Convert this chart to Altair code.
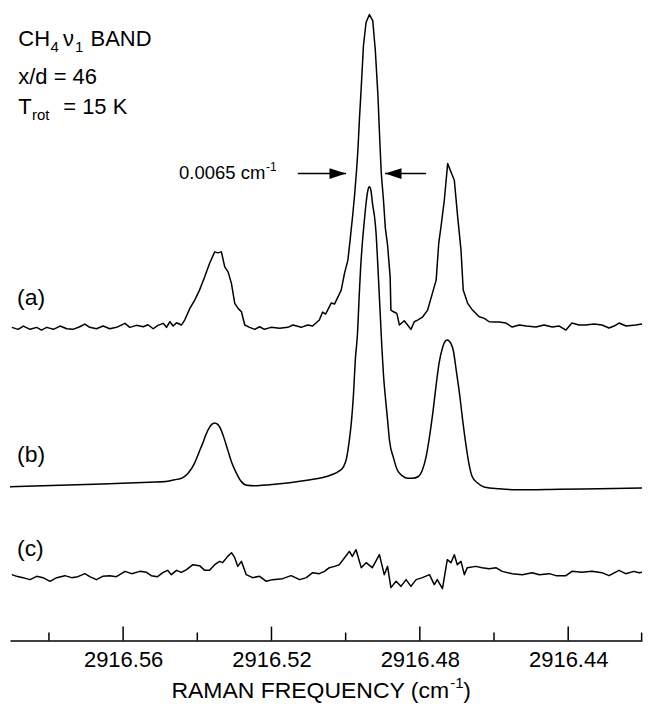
import altair as alt
import pandas as pd

# ---------------- data ----------------
# (a) experimental spectrum: frequency (cm-1) and intensity (arb. units)
A_FREQ = [2916.5900, 2916.5883, 2916.5869, 2916.5851, 2916.5833, 2916.5820, 2916.5806, 2916.5788, 2916.5770, 2916.5752,
          2916.5735, 2916.5717, 2916.5703, 2916.5690, 2916.5672, 2916.5654, 2916.5636, 2916.5618, 2916.5595, 2916.5582,
          2916.5564, 2916.5546, 2916.5533, 2916.5519, 2916.5506, 2916.5492, 2916.5483, 2916.5474, 2916.5465, 2916.5456,
          2916.5443, 2916.5434, 2916.5420, 2916.5407, 2916.5394, 2916.5380, 2916.5367, 2916.5353, 2916.5344, 2916.5335,
          2916.5326, 2916.5317, 2916.5308, 2916.5299, 2916.5290, 2916.5281, 2916.5272, 2916.5259, 2916.5245, 2916.5232,
          2916.5219, 2916.5201, 2916.5178, 2916.5156, 2916.5142, 2916.5120, 2916.5102, 2916.5089, 2916.5071, 2916.5062,
          2916.5054, 2916.5039, 2916.5030, 2916.5021, 2916.5012, 2916.5003, 2916.4994, 2916.4988, 2916.4981, 2916.4976,
          2916.4971, 2916.4967, 2916.4963, 2916.4957, 2916.4952, 2916.4945, 2916.4936, 2916.4927, 2916.4920, 2916.4913,
          2916.4908, 2916.4904, 2916.4898, 2916.4893, 2916.4887, 2916.4880, 2916.4878, 2916.4871, 2916.4862, 2916.4855,
          2916.4842, 2916.4833, 2916.4824, 2916.4815, 2916.4806, 2916.4792, 2916.4779, 2916.4766, 2916.4756, 2916.4749,
          2916.4743, 2916.4734, 2916.4725, 2916.4716, 2916.4707, 2916.4698, 2916.4689, 2916.4683, 2916.4671, 2916.4658,
          2916.4640, 2916.4626, 2916.4613, 2916.4599, 2916.4586, 2916.4568, 2916.4551, 2916.4532, 2916.4513, 2916.4487,
          2916.4465, 2916.4443, 2916.4424, 2916.4406, 2916.4390, 2916.4371, 2916.4353, 2916.4330, 2916.4309, 2916.4290,
          2916.4276, 2916.4263, 2916.4244, 2916.4218, 2916.4201, 2916.4182]
A_INT = [-0.3, -2.3, 1, -2.3, -0.3, -3, -0.3, -2.3, 1, -1.7,
         -2.3, 0.3, 3, -0.3, -1.7, 1, -1.7, -0.3, 3.7, -0.3,
         1.7, 0.3, 2.3, -1.7, 1.7, 3.7, -0.3, 5.3, 1, 4.3,
         2, 7, 18.7, 27, 37, 50.3, 63.7, 75.3, 74.3, 75.3,
         60.3, 55.3, 43.7, 23.7, 18.7, 15.3, 2, -0.3, -2.3, 0.3,
         -2.3, -0.3, -1.3, -0.3, 2, -0.3, 2, 1, 7, 15,
         13, 24, 23, 30, 37, 54, 67, 87, 112, 132,
         155, 177, 207, 247, 282, 305, 313, 307, 277, 232,
         187, 154, 127, 99, 82, 50, 17, 15.3, 13.7, 2,
         6.3, 2, -2.3, 5.3, 7, 10.3, 17, 34, 47, 84,
         100.3, 127, 163.7, 155.3, 147, 110.3, 77, 37, 23.7, 17,
         10.3, 8.7, 5.3, 5, 5, 4, 0, 2, 1, 0,
         2, 0, 1, -3, 4, 2, 2, 3, 2, -1,
         1, 4, 1, 2, 3, 4]

# (b) calculated spectrum
B_FREQ = [2916.5905, 2916.5770, 2916.5636, 2916.5528, 2916.5485, 2916.5461, 2916.5440, 2916.5426, 2916.5407, 2916.5396,
          2916.5385, 2916.5377, 2916.5368, 2916.5361, 2916.5353, 2916.5345, 2916.5337, 2916.5329, 2916.5318, 2916.5307,
          2916.5295, 2916.5283, 2916.5267, 2916.5245, 2916.5205, 2916.5151, 2916.5095, 2916.5065, 2916.5038, 2916.5017,
          2916.5006, 2916.4998, 2916.4990, 2916.4984, 2916.4979, 2916.4974, 2916.4968, 2916.4964, 2916.4960, 2916.4955,
          2916.4949, 2916.4945, 2916.4940, 2916.4936, 2916.4932, 2916.4927, 2916.4922, 2916.4918, 2916.4914, 2916.4910,
          2916.4906, 2916.4902, 2916.4898, 2916.4893, 2916.4887, 2916.4882, 2916.4871, 2916.4861, 2916.4847, 2916.4832,
          2916.4820, 2916.4804, 2916.4793, 2916.4783, 2916.4774, 2916.4765, 2916.4756, 2916.4748, 2916.4739, 2916.4731,
          2916.4726, 2916.4721, 2916.4715, 2916.4710, 2916.4702, 2916.4692, 2916.4684, 2916.4675, 2916.4667, 2916.4659,
          2916.4645, 2916.4625, 2916.4586, 2916.4536, 2916.4424, 2916.4317, 2916.4181]
B_INT = [1, 2.5, 4, 5.5, 6.3, 8, 10, 14, 25, 35,
         45, 53, 60, 63.5, 65, 63.5, 59, 51, 38, 25,
         15, 7, 2.5, 2, 3, 5, 8, 10, 13, 17,
         21, 29, 48, 68, 93, 128, 155, 188, 218, 245,
         270, 285, 298, 301.5, 298, 283, 271, 255, 228, 198,
         168, 138, 113, 91, 68, 48, 30, 18, 12, 9.5,
         9.5, 11.3, 18, 31.3, 51, 75, 103, 125, 140, 147,
         148, 147, 143.5, 138, 118, 91.3, 66, 41.3, 23, 11.3,
         5, 0.5, -1, -2, -1.5, -1, 0]

# (c) residual (a) - (b)
C_FREQ = [2916.5900, 2916.5887, 2916.5870, 2916.5851, 2916.5833, 2916.5816, 2916.5797, 2916.5779, 2916.5757, 2916.5739,
          2916.5722, 2916.5703, 2916.5690, 2916.5672, 2916.5655, 2916.5636, 2916.5618, 2916.5595, 2916.5577, 2916.5555,
          2916.5537, 2916.5524, 2916.5507, 2916.5493, 2916.5480, 2916.5470, 2916.5456, 2916.5443, 2916.5429, 2916.5412,
          2916.5394, 2916.5380, 2916.5367, 2916.5353, 2916.5340, 2916.5332, 2916.5318, 2916.5308, 2916.5299, 2916.5291,
          2916.5281, 2916.5268, 2916.5251, 2916.5232, 2916.5214, 2916.5197, 2916.5170, 2916.5147, 2916.5124, 2916.5106,
          2916.5089, 2916.5071, 2916.5057, 2916.5044, 2916.5030, 2916.5017, 2916.5003, 2916.4990, 2916.4982, 2916.4972,
          2916.4958, 2916.4945, 2916.4928, 2916.4909, 2916.4896, 2916.4887, 2916.4878, 2916.4864, 2916.4851, 2916.4837,
          2916.4824, 2916.4810, 2916.4793, 2916.4774, 2916.4761, 2916.4753, 2916.4739, 2916.4726, 2916.4716, 2916.4707,
          2916.4699, 2916.4689, 2916.4680, 2916.4672, 2916.4649, 2916.4632, 2916.4613, 2916.4595, 2916.4578, 2916.4551,
          2916.4524, 2916.4497, 2916.4478, 2916.4451, 2916.4433, 2916.4406, 2916.4390, 2916.4363, 2916.4336, 2916.4309,
          2916.4290, 2916.4263, 2916.4245, 2916.4223, 2916.4209, 2916.4182]
C_INT = [1, -0.7, -2, -4, -0.7, -2, -5.7, -2, 0, -2,
         -1, 2, -1, -4, -0.7, 0, -1, 4.3, 2, 4.3,
         3.3, 0, -1, 3, 5.3, 1, 5.3, 3.3, 6, 11,
         10, 5.3, 5.3, 11, 14.3, 13, 19.3, 23, 18, 9.3,
         14.3, 1, -2, -0.7, -5.7, -4, -3, 0, -4, -2,
         3, 2, 4.3, 8, 9.3, 11, 18, 24.3, 19.3, 26,
         8, 13, 8, 21, 1, 9.3, -12, -5.7, -10.7, -4,
         -10.7, -4, -2, 1, -9, -4, -13, 16, 13, 21,
         11, 14.3, 1, 8, 9.3, 8, 7, 8, 4.3, 2,
         1, 3, 1, 2, 0, 0, 4.3, 3.3, 4.3, 3,
         0, 5.3, 2, 4.3, 3, 4.3]

# vertical offsets of the three stacked traces
OFFSET_A = 314
OFFSET_B = 153
OFFSET_C = 65

MAJOR_TICKS = [2916.56, 2916.52, 2916.48, 2916.44]
MINOR_TICKS = [2916.58, 2916.54, 2916.50, 2916.46, 2916.4202]
MAJOR_LEN = 14
MINOR_LEN = 8

# FWHM arrows (0.0065 cm-1) at half height of the main peak of (a)
ARROW_LEVEL = 467.7
ARROW_R = (2916.5129, 2916.4999)   # tail, tip
ARROW_L = (2916.4783, 2916.4894)   # tail, tip

X_DOMAIN = [2916.4201, 2916.5905]
Y_DOMAIN = [0, 633]

FONT = "Liberation Sans"

# ---------------- build ----------------
def trace_df(freq, inten, off):
    n = min(len(freq), len(inten))
    return pd.DataFrame({"freq": freq[:n], "v": [i + off for i in inten[:n]]})

xscale = alt.Scale(domain=X_DOMAIN, reverse=True, nice=False, zero=False)
yscale = alt.Scale(domain=Y_DOMAIN, nice=False, zero=False)

xaxis = alt.Axis(values=MAJOR_TICKS, format=".2f", title=None, grid=False,
                 ticks=False, tickSize=0, domain=True, domainColor="black",
                 domainWidth=1.5, labelFont=FONT, labelFontSize=22,
                 labelColor="black", labelPadding=9, labelFlush=False)


def X(field):
    return alt.X(field, scale=xscale, axis=xaxis)


def line_layer(df, interp):
    return alt.Chart(df).mark_line(color="black", strokeWidth=1.5, clip=True,
                                   strokeJoin="round", interpolate=interp).encode(
        x=X("freq:Q"),
        y=alt.Y("v:Q", scale=yscale, axis=None),
    )

la = line_layer(trace_df(A_FREQ, A_INT, OFFSET_A), "linear")
lb = line_layer(trace_df(B_FREQ, B_INT, OFFSET_B), "monotone")
lc = line_layer(trace_df(C_FREQ, C_INT, OFFSET_C), "linear")

ticks_df = pd.DataFrame({
    "freq": MAJOR_TICKS + MINOR_TICKS,
    "y0": [0] * (len(MAJOR_TICKS) + len(MINOR_TICKS)),
    "y1": [MAJOR_LEN] * len(MAJOR_TICKS) + [MINOR_LEN] * len(MINOR_TICKS),
})
ticks = alt.Chart(ticks_df).mark_rule(color="black", strokeWidth=1.5).encode(
    x=X("freq:Q"),
    y=alt.Y("y0:Q", scale=yscale, axis=None),
    y2="y1:Q",
)

shaft_df = pd.DataFrame({"x1": [ARROW_R[0], ARROW_L[0]], "x2": [ARROW_R[1], ARROW_L[1]],
                         "lev": [ARROW_LEVEL, ARROW_LEVEL]})
shafts = alt.Chart(shaft_df).mark_rule(color="black", strokeWidth=1.5).encode(
    x=X("x1:Q"), x2="x2:Q",
    y=alt.Y("lev:Q", scale=yscale, axis=None),
)
head_r = alt.Chart(pd.DataFrame({"freq": [ARROW_R[1]], "lev": [ARROW_LEVEL]})).mark_point(
    shape="M0,0L-1,-0.32L-1,0.32Z", size=1100, filled=True, color="black", opacity=1).encode(
    x=X("freq:Q"), y=alt.Y("lev:Q", scale=yscale, axis=None))
head_l = alt.Chart(pd.DataFrame({"freq": [ARROW_L[1]], "lev": [ARROW_LEVEL]})).mark_point(
    shape="M0,0L1,-0.32L1,0.32Z", size=1100, filled=True, color="black", opacity=1).encode(
    x=X("freq:Q"), y=alt.Y("lev:Q", scale=yscale, axis=None))


def txt(s, px, py, size):
    return alt.Chart(alt.Data(values=[{}])).mark_text(
        text=s, align="left", baseline="alphabetic", fontSize=size, font=FONT,
        color="black").encode(x=alt.value(px), y=alt.value(py))

TITLE_Y = 691
texts = [
    txt("CH", 8.3, 38, 22), txt("4", 40.5, 43.5, 15), txt("ν", 53, 38, 22),
    txt("1", 65, 43.5, 15), txt("BAND", 80.7, 38, 22),
    txt("x/d = 46", 8.3, 75.3, 22),
    txt("T", 8.3, 105.3, 22), txt("rot", 22, 112, 15), txt("= 15 K", 53.3, 105.3, 22),
    txt("(a)", 7, 297, 23), txt("(b)", 7, 454, 23), txt("(c)", 7, 548, 23),
    txt("0.0065 cm", 169.3, 170.3, 18.5), txt("-1", 256.5, 163, 12),
    txt("RAMAN FREQUENCY (cm", 161.7, TITLE_Y, 23), txt("-1", 441, TITLE_Y - 10.3, 15),
    txt(")", 454, TITLE_Y, 23),
]

chart = alt.layer(la, lb, lc, ticks, shafts, head_r, head_l, *texts).properties(
    width=633, height=633,
    padding={"left": 2, "top": 0, "right": 0, "bottom": 0},
    background="white",
).configure_view(strokeWidth=0)

chart.save("out.html", embed_options={"renderer": "svg", "actions": False})
